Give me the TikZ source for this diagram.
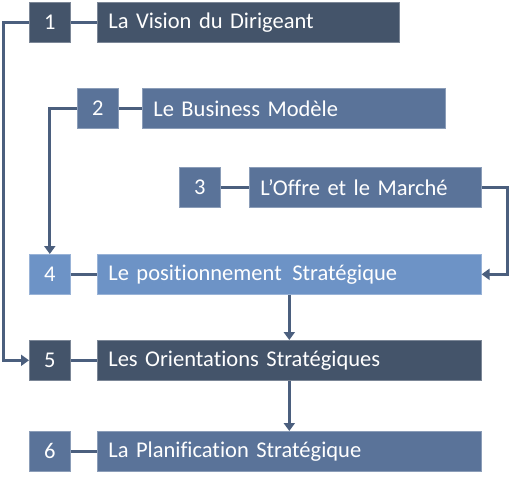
\documentclass[tikz,border=0pt]{standalone}
\usepackage{fontspec}
\setmainfont[Ligatures=NoCommon]{Carlito}
\usetikzlibrary{arrows.meta}
\definecolor{darkslate}{HTML}{44546A}
\definecolor{midslate}{HTML}{5A7399}
\definecolor{lightslate}{HTML}{6D93C6}
\definecolor{linkcol}{HTML}{4B5F7E}
\tikzset{
  box/.style={fill=#1, draw=#1!70!white, line width=0.6pt, inner sep=0pt,
    minimum height=40pt, anchor=north west, text=white,
    font=\fontsize{22.5}{26}\selectfont},
  numbox/.style={box=#1, minimum width=41pt},
  link/.style={draw=linkcol, line width=3pt},
  arr/.style={link, -{Triangle[length=8pt,width=11pt]}}
}
\begin{document}
\begin{tikzpicture}[x=1pt, y=-1pt, line join=miter]
		\useasboundingbox (0,0) rectangle (511,480);
		% numbered boxes
		\foreach \n/\x/\y/\col in {1/29/2/darkslate, 2/77/88/midslate, 3/179/167/midslate,
		  4/29/254/lightslate, 5/29/340/darkslate, 6/29/431/midslate}
		\node[numbox=\col] (n\n) at (\x,\y) {\n};
		% titles
		\foreach \n/\x/\y/\w/\col/\txt in {1/97/2/302/darkslate/La Vision du Dirigeant,
		  2/142/88/303/midslate/Le Business Modèle,
		  3/249/167/232/midslate/L’Offre et le Marché,
		  4/97/254/384/lightslate/Le positionnement\hspace{3pt} Stratégique,
		  5/97/340/384/darkslate/Les Orientations Stratégiques,
		  6/97/431/384/midslate/La Planification Stratégique}
		\node[box=\col, minimum width=\w pt, text width=\w pt-22pt, inner xsep=11pt, align=left] (t\n) at (\x,\y) {\txt};
		\foreach \n in {1,...,6}
		\draw[link] (n\n) -- (t\n);
		% flow
		\draw[arr] (n1.west) -- ++(-26,0) |- (n5.west);
		\draw[arr] (n2.west) -| (n4.north);
		\draw[arr] (t3.east) -- ++(26,0) |- (t4.east);
		\draw[arr] (t4.south) -- (t5.north);
		\draw[arr] (t5.south) -- (t6.north);
	\end{tikzpicture}
\end{document}
